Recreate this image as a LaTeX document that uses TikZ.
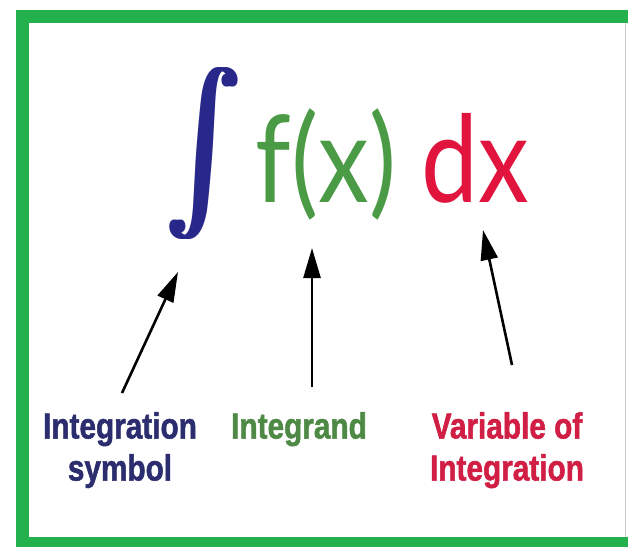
\documentclass[tikz,border=0pt]{standalone}
\usepackage{fontspec}
\usepackage{graphicx}
\usetikzlibrary{arrows.meta}
\newfontfamily\labelfont[FakeStretch=0.82,FakeBold=1.4]{Liberation Sans Bold}
\newfontfamily\formulafont[FakeStretch=0.84]{Lato}
\definecolor{framegreen}{HTML}{22B14C}
\definecolor{intblue}{HTML}{28288A}
\definecolor{symblue}{HTML}{2B2D6E}
\definecolor{fxgreen}{HTML}{4A9A46}
\definecolor{randgreen}{HTML}{4E8A45}
\definecolor{dxred}{HTML}{E0143C}
\definecolor{varred}{HTML}{D01E45}
% dickes Integralzeichen
\newcommand\intglyph{\resizebox*{74pt}{172pt}{$\int$}}
\newcommand\fatint{\intglyph\kern-72pt\intglyph\kern-72pt\intglyph\kern-72pt\intglyph}
\tikzset{
  formula/.style={anchor=base,inner sep=0pt,font=\formulafont\fontsize{121}{121}\selectfont},
  partlabel/.style={anchor=north,inner sep=0pt,align=center,
    font=\labelfont\fontsize{36.3}{42}\selectfont},
  pointer/.style={line width=2.6pt,-{Triangle[length=30pt,width=17pt]}}
}
\begin{document}
\begin{tikzpicture}[x=1pt,y=-1pt]
  \useasboundingbox (0,0) rectangle (628,547);
  \fill[white] (0,0) rectangle (628,547);
  % Rahmen (rechts abgeschnitten)
  \fill[framegreen] (15.5,10) rectangle (628,23);
  \fill[framegreen] (15.5,10) rectangle (28.5,547);
  \fill[framegreen] (15.5,537) rectangle (628,547);
  \draw[gray!40,line width=0.8pt] (625,23) -- (625,537);
  % Formel
  \node[inner sep=0pt,text=intblue] (int) at (204,154) {\fatint};
  \node[formula,text=fxgreen] (fx) at (326,202) {f(x)};
  \node[formula,text=dxred] (dx) at (475,202) {dx};
  % Beschriftungen
  \node[partlabel,text=symblue] (symlabel) at (120,412) {Integration\\symbol};
  \node[partlabel,text=randgreen] (randlabel) at (299,412) {Integrand};
  \node[partlabel,text=varred] (varlabel) at (507,412) {Variable of\\Integration};
  % Pfeile
  \coordinate (symtail) at (122,393);
  \coordinate (symtip) at (178,272);
  \coordinate (randtail) at (312,387);
  \coordinate (randtip) at (312,248);
  \coordinate (vartail) at (512,365);
  \coordinate (vartip) at (483,230);
  \draw[pointer] (symtail) -- (symtip);
  \draw[pointer] (randtail) -- (randtip);
  \draw[pointer] (vartail) -- (vartip);
\end{tikzpicture}
\end{document}
